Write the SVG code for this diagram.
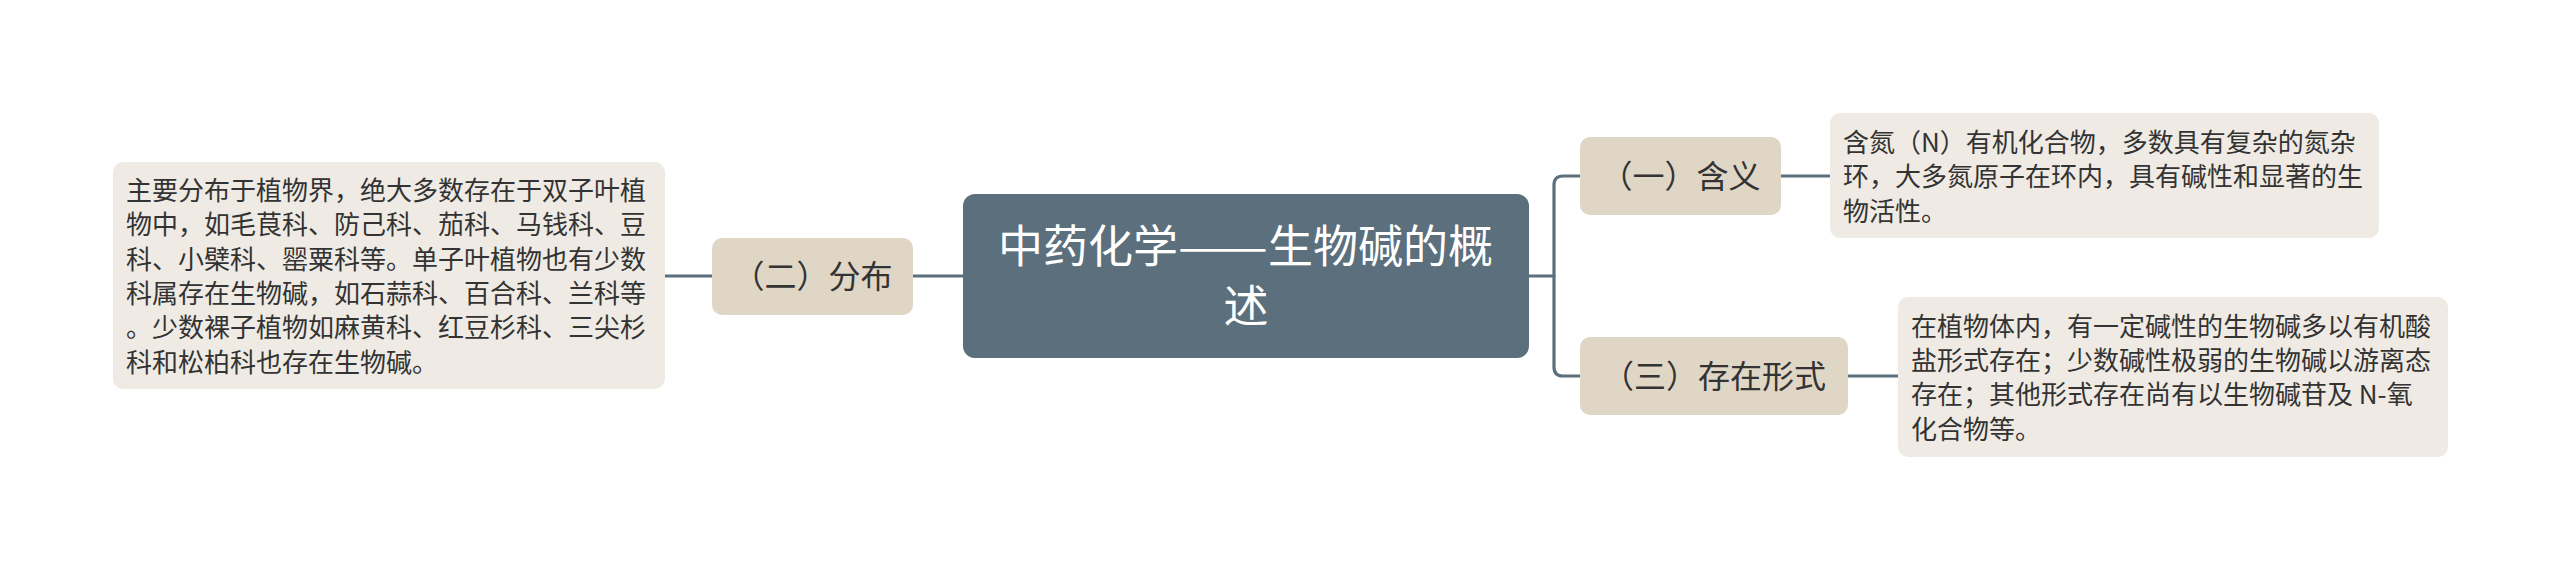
<svg xmlns="http://www.w3.org/2000/svg" width="2560" height="569" viewBox="0 0 2560 569">
<style>
.bg{fill:#ffffff}
.root{fill:#5c6f7c}
.topic{fill:#e0d6c6}
.detail{fill:#efebe4}
.conn{fill:none;stroke:#5c6f7c;stroke-width:3.2;stroke-linecap:round}
text{font-family:"Noto Sans CJK SC","Noto Sans",sans-serif}
.rt{fill:#ffffff;font-size:45px}
.mid{text-anchor:middle}
.tt{fill:#333333;font-size:32px;text-anchor:middle}
.dt{fill:#333333;font-size:26px}
</style>
<rect class="bg" x="0" y="0" width="2560" height="569"/>
<g id="connectors">
<path class="conn" d="M665 276 H712"/>
<path class="conn" d="M913 276 H963"/>
<path class="conn" d="M1529 276 H1554"/>
<path class="conn" d="M1580 176 H1563 Q1554 176 1554 185 V367 Q1554 376 1563 376 H1580"/>
<path class="conn" d="M1781 176 H1830"/>
<path class="conn" d="M1848 376 H1898"/>
</g>
<g id="root">
<rect class="root" x="963" y="194" width="566" height="164" rx="12"/>
<text class="rt" y="263"><tspan x="998">中药化学</tspan><tspan x="1178" textLength="90" lengthAdjust="spacingAndGlyphs">——</tspan><tspan x="1268">生物碱的概</tspan></text>
<text class="rt mid" x="1246" y="323">述</text>
</g>
<g id="topic-distribution">
<rect class="topic" x="712" y="238" width="201" height="77" rx="10"/>
<text class="tt" x="812.5" y="288">（二）分布</text>
</g>
<g id="detail-distribution">
<rect class="detail" x="113" y="162" width="552" height="227" rx="10"/>
<text class="dt" x="126" y="200">主要分布于植物界，绝大多数存在于双子叶植</text>
<text class="dt" x="126" y="234.3">物中，如毛茛科、防己科、茄科、马钱科、豆</text>
<text class="dt" x="126" y="268.6">科、小檗科、罂粟科等。单子叶植物也有少数</text>
<text class="dt" x="126" y="302.9">科属存在生物碱，如石蒜科、百合科、兰科等</text>
<text class="dt" x="126" y="337.2">。少数裸子植物如麻黄科、红豆杉科、三尖杉</text>
<text class="dt" x="126" y="371.5">科和松柏科也存在生物碱。</text>
</g>
<g id="topic-meaning">
<rect class="topic" x="1580" y="137" width="201" height="78" rx="10"/>
<text class="tt" x="1680.5" y="188">（一）含义</text>
</g>
<g id="detail-meaning">
<rect class="detail" x="1830" y="113" width="549" height="125" rx="10"/>
<text class="dt" x="1843" y="151.5">含氮（N）有机化合物，多数具有复杂的氮杂</text>
<text class="dt" x="1843" y="186">环，大多氮原子在环内，具有碱性和显著的生</text>
<text class="dt" x="1843" y="220.5">物活性。</text>
</g>
<g id="topic-forms">
<rect class="topic" x="1580" y="337" width="268" height="78" rx="10"/>
<text class="tt" x="1714" y="388">（三）存在形式</text>
</g>
<g id="detail-forms">
<rect class="detail" x="1898" y="297" width="550" height="160" rx="10"/>
<text class="dt" x="1911" y="335.5">在植物体内，有一定碱性的生物碱多以有机酸</text>
<text class="dt" x="1911" y="370">盐形式存在；少数碱性极弱的生物碱以游离态</text>
<text class="dt" x="1911" y="404">存在；其他形式存在尚有以生物碱苷及 N-氧</text>
<text class="dt" x="1911" y="438.5">化合物等。</text>
</g>
</svg>
